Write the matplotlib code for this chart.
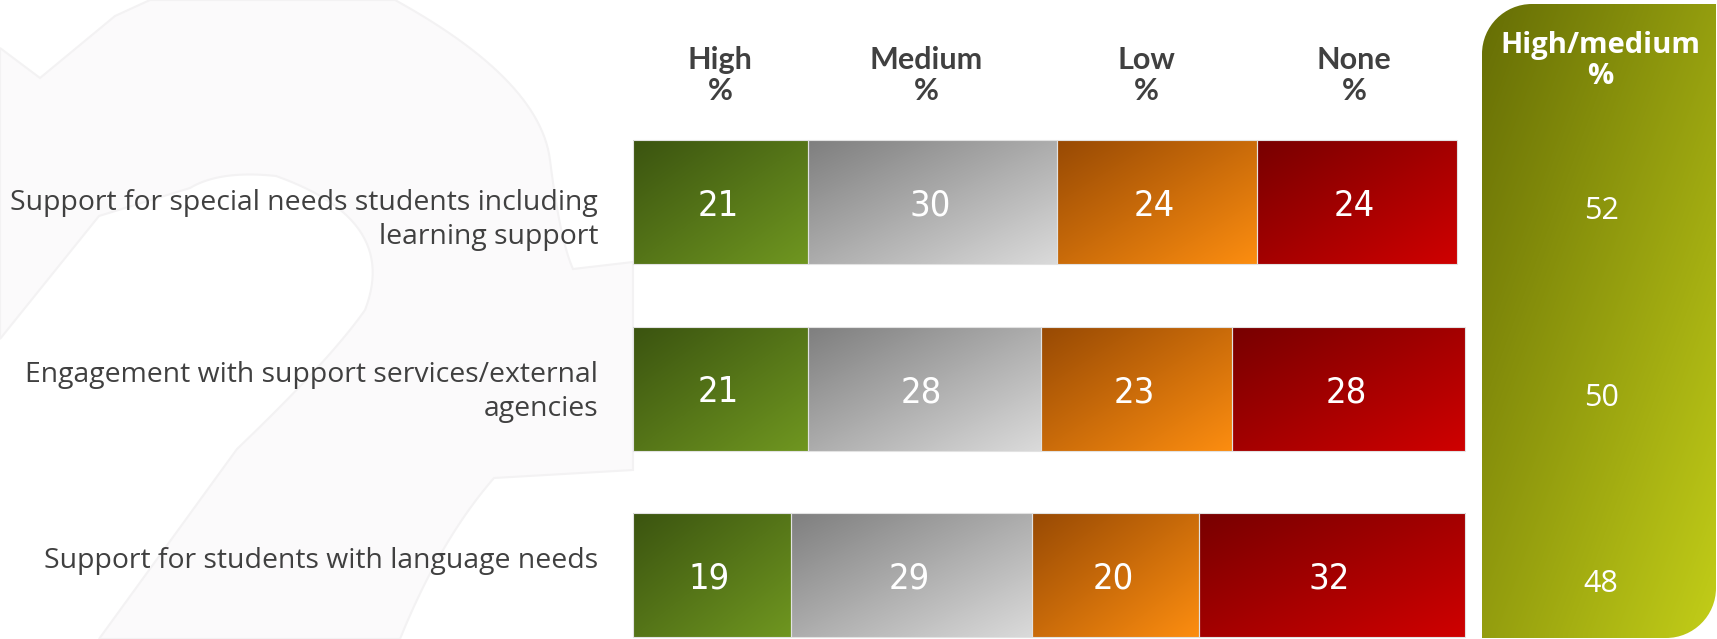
import numpy as np
import matplotlib
matplotlib.use("Agg")
import matplotlib.pyplot as plt
from matplotlib.colors import LinearSegmentedColormap
from matplotlib.path import Path
from matplotlib.patches import PathPatch, Polygon

# ---------------- data ----------------
categories = ["Support for special needs students including\nlearning support",
              "Engagement with support services/external\nagencies",
              "Support for students with language needs"]
levels = ["High", "Medium", "Low", "None"]
high = [21, 21, 19]
medium = [30, 28, 29]
low = [24, 23, 20]
none = [24, 28, 32]
high_medium = [52, 50, 48]
panel_title = "High/medium"

# ---------------- style ----------------
seg_colors = {
    "High": ("#3b5410", "#6f9620"),
    "Medium": ("#7f7f7f", "#dadada"),
    "Low": ("#984a04", "#fc8d10"),
    "None": ("#780000", "#cf0000"),
}
panel_colors = ("#666e05", "#c2cd18")
text_dark = "#404040"

W, H = 1717, 639
fig = plt.figure(figsize=(W / 100, H / 100), dpi=100)
fig.patch.set_facecolor("white")


def qbez(p0, p1, p2, n=30):
    t = np.linspace(0, 1, n)[:, None]
    p0, p1, p2 = map(np.asarray, (p0, p1, p2))
    return (1 - t) ** 2 * p0 + 2 * (1 - t) * t * p1 + t ** 2 * p2


# faint background watermark (pixel coordinates)
bg = fig.add_axes([0, 0, 1, 1])
bg.set_zorder(0)
bg.set_xlim(0, W)
bg.set_ylim(H, 0)
bg.axis("off")
outer = np.vstack([
    [[0, 48], [40, 78], [115, 16], [150, 0], [395, 0]],
    qbez((395, 0), (540, 80), (550, 160)),
    qbez((550, 160), (560, 240), (573, 269)),
    [[633, 262], [633, 470], [494, 478]],
    qbez((494, 478), (440, 540), (400, 639)),
])
inner = np.vstack([
    [[99, 639], [237, 449]],
    qbez((237, 449), (330, 360), (365, 310)),
    qbez((365, 310), (400, 220), (276, 176)),
    qbez((276, 176), (220, 170), (190, 188)),
    [[99, 216], [0, 339]],
])
blob = np.vstack([outer, inner])
bg.add_patch(Polygon(blob, closed=True, facecolor="#fbfafb", edgecolor="#f3f2f3", lw=1.5))

# main axes for bars (data units: percent on x, category index on y)
ax = fig.add_axes([0, 0, 1, 1])
ax.set_zorder(3)
ax.patch.set_alpha(0)
x0px, unit = 633, 8.32
ax.set_xlim(-x0px / unit, (W - x0px) / unit)
yc0, step = 202, 186.5
ax.set_ylim((H - yc0) / step, -yc0 / step)
ax.axis("off")

ypos = np.arange(len(categories))
series = [high, medium, low, none]
bar_h = 124 / step
grad = np.add.outer(np.linspace(0, 1, 64), np.linspace(0, 1, 64)) / 2.0

left = np.zeros(len(categories))
for lvl, vals in zip(levels, series):
    c0, c1 = seg_colors[lvl]
    cmap = LinearSegmentedColormap.from_list(lvl, [c0, c1])
    bars = ax.barh(ypos, vals, left=left, height=bar_h, color=c1,
                   edgecolor="#e2e2e2", linewidth=0.8, zorder=2)
    for b, v in zip(bars, vals):
        x, y = b.get_x(), b.get_y()
        w, h = b.get_width(), b.get_height()
        im = ax.imshow(grad, cmap=cmap, extent=(x, x + w, y + h, y), origin="upper",
                       aspect="auto", interpolation="bilinear", zorder=1)
        im.set_clip_path(b)
        b.set_facecolor("none")
        ax.text(x + w / 2 - 0.3, y + h / 2 + 0.02, f"{v}", ha="center", va="center",
                color="white", fontsize=26, family="DejaVu Sans", fontstretch="condensed",
                zorder=5)
    left = left + np.array(vals)

# category labels
label_dy = [0.095, 0.02, -0.075]
for i, lab in enumerate(categories):
    ax.text(-4.2, ypos[i] + label_dy[i], lab, ha="right", va="center", color=text_dark,
            fontsize=20.4, family="Open Sans", linespacing=1.3)

# column headers
header_x = [10.5, 35.2, 61.7, 86.7]
for hx, lvl in zip(header_x, levels):
    ax.text(hx, (60 - yc0) / step, lvl, ha="center", va="center", color=text_dark,
            fontsize=22, fontweight="bold", family="Lato")
    ax.text(hx, (91 - yc0) / step, "%", ha="center", va="center", color=text_dark,
            fontsize=22, fontweight="bold", family="Lato")

# High/medium panel
px0, px1, py0, py1 = 1482, 1716, 4, 638
pax = fig.add_axes([px0 / W, 1 - py1 / H, (px1 - px0) / W, (py1 - py0) / H])
pax.set_zorder(2)
pw, ph = px1 - px0, py1 - py0
pax.set_xlim(0, pw)
pax.set_ylim(ph, 0)
pax.axis("off")
r = 50
k = 0.5523
verts = [(0, ph), (0, r), (0, r - r * k), (r - r * k, 0), (r, 0),
         (pw, 0), (pw, ph - r), (pw, ph - r + r * k), (pw - r + r * k, ph), (pw - r, ph),
         (0, ph)]
codes = [Path.MOVETO, Path.LINETO, Path.CURVE4, Path.CURVE4, Path.CURVE4,
         Path.LINETO, Path.LINETO, Path.CURVE4, Path.CURVE4, Path.CURVE4, Path.CLOSEPOLY]
panel = PathPatch(Path(verts, codes), facecolor="none", edgecolor="none")
pax.add_patch(panel)
pcmap = LinearSegmentedColormap.from_list("panel", list(panel_colors))
pim = pax.imshow(grad, cmap=pcmap, extent=(0, pw, ph, 0), origin="upper", aspect="auto",
                 interpolation="bilinear")
pim.set_clip_path(panel)

pcx = 1600 - px0
pax.text(pcx, 46 - py0, panel_title, ha="center", va="center", color="white",
         fontsize=21, fontweight="bold", family="Open Sans")
pax.text(pcx, 76 - py0, "%", ha="center", va="center", color="white",
         fontsize=21, fontweight="bold", family="Open Sans")

# High/medium values aligned with bar rows via main axes
for i, v in enumerate(high_medium):
    ax.text((1601 - x0px) / unit, ypos[i] + 0.05, f"{v}", ha="center", va="center",
            color="white", fontsize=22, family="Open Sans", zorder=6)

fig.savefig("out.png", dpi=100, facecolor="white")
